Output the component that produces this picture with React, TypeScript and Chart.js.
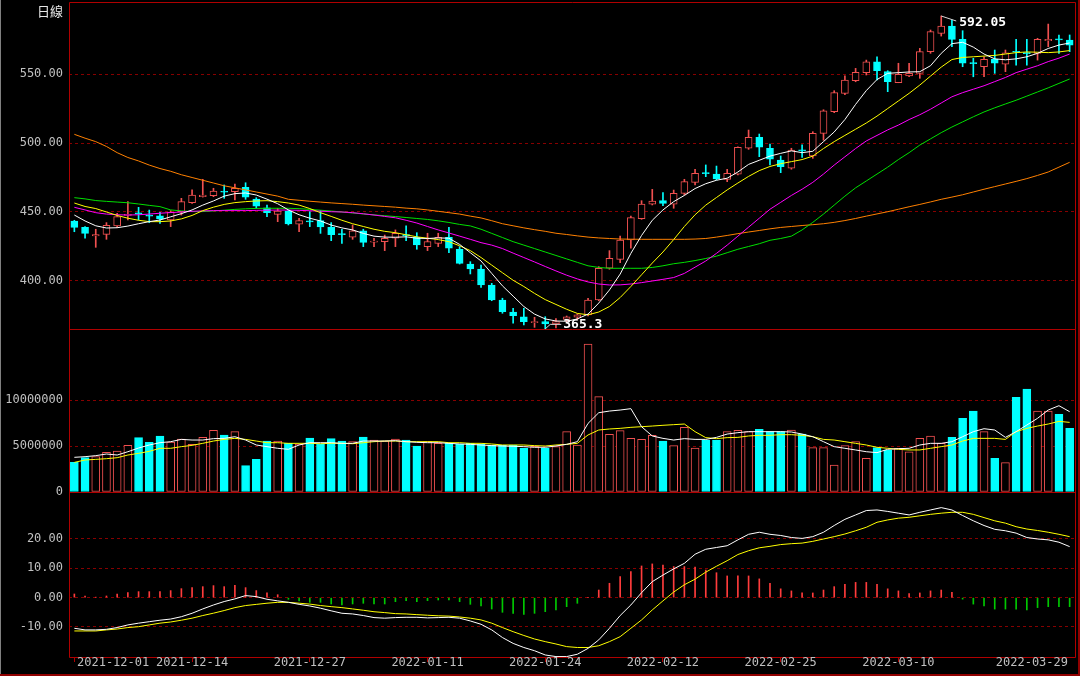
import React, { useEffect, useRef } from "react";
import { Chart, registerables } from "chart.js";

Chart.register(...registerables);

const UP = "#f05050";
const DOWN = "#00ffff";
const GRID = "rgb(135,0,0)";
const FRAME = "#b00000";
const LABEL = "#c0c0c0";
const MONO = "'DejaVu Sans Mono', monospace";

const periodLabel = "日線";

// ---- daily candles ----
const openP = [
  443.5, 438.9, 432.6, 433.8, 439.9, 447.6, 449.2, 447.5, 447.3, 444.2,
  450.2, 456.7, 461.1, 461.8, 465.0, 464.7, 467.9, 459.4, 453.1, 448.3,
  450.7, 441.1, 443.3, 443.7, 438.9, 434.0, 431.7, 436.4, 428.2, 428.5,
  431.0, 433.4, 431.7, 424.9, 427.3, 431.7, 423.0, 412.3, 408.7, 397.1,
  386.2, 377.5, 374.1, 369.8, 370.5, 368.8, 372.2, 373.7, 375.4, 386.2,
  409.2, 415.7, 429.7, 445.1, 455.6, 458.2, 455.6, 463.5, 471.5, 478.3,
  477.5, 473.7, 477.5, 496.2, 504.1, 496.2, 487.7, 481.7, 494.8, 490.6,
  507.0, 522.7, 536.0, 545.1, 551.0, 558.9, 551.7, 543.7, 548.6, 550.5,
  566.2, 579.5, 584.8, 575.1, 558.0, 555.3, 560.7, 557.2, 566.3, 565.3,
  565.0, 574.1, 575.3, 574.6,
];
const closeP = [
  438.9, 434.5, 433.7, 440.4, 446.6, 448.3, 448.6, 447.0, 444.9, 449.8,
  457.5, 462.3, 462.3, 465.2, 464.3, 467.2, 460.7, 454.3, 449.5, 450.7,
  441.3, 443.7, 442.8, 439.2, 433.6, 433.6, 436.4, 428.0, 428.7, 431.0,
  434.6, 432.9, 426.1, 428.5, 431.7, 423.7, 412.8, 408.7, 397.1, 386.2,
  377.8, 374.9, 370.5, 370.3, 368.8, 370.5, 374.1, 375.4, 386.2, 409.2,
  416.4, 429.7, 445.9, 455.8, 458.0, 456.3, 463.5, 472.0, 478.0, 477.8,
  473.9, 478.0, 496.9, 504.1, 496.9, 488.2, 482.8, 494.9, 494.3, 507.0,
  523.4, 536.5, 545.7, 551.2, 558.9, 552.4, 544.4, 549.8, 550.5, 566.2,
  580.7, 584.8, 575.1, 557.8, 557.5, 560.7, 557.8, 565.4, 565.8, 564.8,
  575.1, 575.1, 574.8, 571.0,
];
const highP = [
  444.0, 439.4, 437.5, 442.3, 449.1, 457.5, 453.4, 451.4, 449.8, 451.0,
  459.9, 466.0, 473.7, 467.2, 469.6, 470.3, 471.2, 460.4, 455.1, 452.7,
  451.4, 445.4, 450.2, 451.0, 442.3, 437.5, 440.6, 437.5, 431.0, 433.3,
  437.0, 439.9, 435.0, 434.6, 434.6, 438.9, 424.9, 414.0, 411.6, 398.3,
  387.5, 380.2, 380.2, 373.7, 374.1, 372.8, 374.6, 376.1, 387.5, 410.4,
  422.0, 432.6, 447.1, 458.2, 466.4, 464.0, 465.9, 473.7, 480.9, 484.1,
  483.3, 480.9, 497.3, 509.4, 506.5, 499.3, 490.6, 496.2, 498.6, 508.2,
  524.1, 537.9, 548.6, 554.1, 560.1, 562.5, 552.4, 557.8, 557.8, 568.6,
  581.9, 592.05, 589.1, 581.4, 561.4, 562.5, 567.4, 567.4, 575.1, 575.1,
  575.9, 586.2, 578.3, 578.3,
];
const lowP = [
  435.7, 431.0, 424.4, 430.2, 438.9, 444.2, 444.2, 442.3, 441.8, 439.4,
  447.8, 456.3, 460.8, 461.1, 459.9, 458.7, 459.2, 452.7, 446.6, 443.0,
  440.6, 435.7, 439.4, 434.5, 429.2, 427.3, 430.2, 424.9, 424.9, 422.0,
  424.9, 429.2, 423.0, 422.0, 424.9, 420.5, 412.3, 405.1, 395.4, 385.7,
  376.6, 369.4, 368.1, 366.4, 365.3, 366.0, 370.5, 372.0, 374.6, 385.7,
  408.5, 413.3, 423.7, 444.7, 455.1, 454.6, 452.7, 462.3, 469.6, 475.6,
  473.2, 472.0, 476.8, 495.4, 490.1, 484.1, 478.5, 481.0, 489.6, 488.9,
  502.0, 522.0, 535.0, 544.4, 549.3, 545.7, 537.2, 543.7, 548.0, 546.9,
  565.0, 577.5, 569.8, 555.3, 548.0, 548.0, 550.5, 551.7, 556.5, 556.5,
  560.1, 569.8, 565.0, 566.2,
];

// ---- moving averages ----
const ma5 = [
  447.8, 443.5, 440.0, 438.4, 438.6, 439.8, 441.5, 443.0, 444.2, 446.5,
  448.8, 451.5, 455.0, 458.0, 461.5, 463.3, 463.8, 462.3, 459.3, 456.0,
  451.5, 448.0, 445.5, 443.5, 440.5, 438.5, 437.0, 434.5, 432.5, 431.8,
  431.7, 432.0, 431.0, 430.8, 431.2, 431.0, 426.5, 420.5, 414.5, 405.5,
  396.5, 389.0, 381.5, 376.0, 372.5, 371.0, 370.8, 372.5, 376.0, 384.0,
  393.5, 405.0, 420.0, 433.0, 444.0, 451.5, 457.5, 462.0, 467.0, 470.5,
  473.0, 474.5, 479.0, 484.5, 487.5, 490.5, 492.5, 494.3, 493.0, 494.0,
  501.0, 508.0, 517.0, 528.0, 538.0, 546.0, 550.5, 551.0, 551.5, 551.7,
  556.0, 565.0, 572.0, 573.0, 569.5, 564.5, 561.0, 560.3, 561.0, 562.5,
  565.0, 568.5, 571.0, 572.5,
];
const ma10 = [
  456.5, 454.0, 452.5, 450.0, 447.5, 445.5, 444.0, 443.0, 443.0, 443.5,
  445.0, 447.5, 451.0, 453.5, 455.5, 456.8, 457.5, 458.0, 458.2, 457.5,
  456.5, 455.0, 452.5, 449.5, 446.8, 444.0, 441.5, 439.5, 437.5, 436.0,
  435.0, 433.5, 432.0, 431.0, 430.0, 428.5, 425.5, 422.0, 417.0, 411.5,
  406.0, 400.5, 396.0, 391.0, 386.5, 383.0, 379.5, 376.5, 375.5, 377.5,
  381.5, 388.0, 396.0, 404.5, 413.0, 421.0, 430.0, 439.5, 448.0, 455.0,
  460.5, 466.0, 471.0, 475.8, 480.0, 483.0, 485.0, 486.5, 488.0, 490.5,
  496.0, 501.0, 505.5, 510.0, 514.5, 519.5, 525.0, 530.5, 536.0, 542.0,
  548.5, 555.0, 560.5, 562.0, 562.5, 563.0, 563.5, 564.5, 565.5, 566.0,
  565.8, 565.5, 566.0, 567.0,
];
const ma20 = [
  453.4, 451.5, 449.5, 448.5, 448.0, 447.8, 448.0, 448.5, 449.1, 449.6,
  450.0, 450.5, 450.8, 451.0, 451.0, 451.0, 451.0, 451.2, 451.3, 451.4,
  451.4, 451.2, 450.9, 450.6, 450.2, 450.0, 449.5, 448.7, 447.8, 446.8,
  445.8, 444.0, 442.0, 439.5, 437.0, 434.8, 432.5, 430.2, 427.8, 426.0,
  423.5, 420.2, 417.0, 413.8, 410.5, 407.3, 404.2, 401.5, 399.3, 397.8,
  397.1, 397.2, 397.8, 398.8, 400.0, 401.2, 402.5, 405.5, 410.0, 414.5,
  420.0, 426.0, 432.5, 439.0, 445.5, 452.0, 457.0, 462.0, 466.5, 471.5,
  477.5, 484.0, 490.0, 496.0, 501.5, 505.5, 509.5, 513.0, 517.0, 520.5,
  524.5, 529.0, 533.5, 536.5, 539.0, 541.5, 544.5, 547.5, 551.0, 553.5,
  556.0, 559.0, 561.5, 564.5,
];
const ma30 = [
  460.4, 459.5, 458.3, 457.7, 457.2, 456.7, 455.8, 454.8, 453.9, 451.5,
  450.8, 450.3, 450.3, 450.8, 451.3, 451.9, 452.3, 452.6, 452.7, 452.7,
  452.7, 452.4, 451.9, 451.3, 450.7, 450.0, 449.3, 448.6, 447.9, 447.3,
  446.7, 446.0, 445.3, 444.6, 443.6, 442.4, 441.0, 439.9, 437.5, 434.5,
  431.5, 428.5, 426.0, 423.5, 421.0, 418.5, 416.0, 413.5, 411.0, 409.8,
  409.2, 409.2, 409.2, 409.2, 409.8, 411.0, 412.5, 413.5, 414.8, 416.3,
  418.0, 420.5, 423.0, 425.0, 427.0, 429.5, 430.8, 432.5, 437.0, 442.5,
  448.5, 455.0, 461.5, 467.5, 472.5, 477.5, 482.5, 488.0, 493.0, 498.5,
  503.0, 507.5, 511.6, 515.3, 519.0, 522.5, 525.5, 528.3, 531.0, 534.0,
  537.0, 540.0, 543.2, 546.4,
];
const ma60 = [
  506.3, 503.5, 501.0, 497.5, 493.0, 489.5, 487.0, 484.0, 481.5, 479.5,
  477.0, 475.0, 473.0, 471.0, 469.0, 467.5, 466.0, 464.5, 463.0, 461.5,
  459.2, 458.5, 457.8, 457.2, 456.6, 456.1, 455.6, 455.0, 454.5, 454.0,
  453.5, 452.8, 452.3, 451.5, 450.5, 449.5, 448.5, 447.0, 445.7, 443.7,
  441.5, 440.0, 438.5, 437.2, 436.0, 434.6, 433.7, 432.7, 431.8, 431.2,
  430.8, 430.4, 430.3, 430.2, 430.2, 430.2, 430.2, 430.2, 430.4, 430.8,
  431.8, 433.0, 434.3, 435.5, 436.6, 437.8, 438.8, 439.5, 440.2, 440.8,
  441.5, 442.5, 443.8, 445.3, 447.0, 448.6, 450.2, 452.0, 453.8, 455.5,
  457.3, 459.2, 460.8, 462.5, 464.5, 466.5, 468.4, 470.3, 472.2, 474.2,
  476.5, 479.0, 482.5, 486.0,
];

// ---- volume ----
const volume = [
  3.23e6, 3.73e6, 3.84e6, 4.31e6, 4.46e6, 5.07e6, 5.91e6, 5.40e6, 6.09e6, 5.43e6,
  5.76e6, 5.18e6, 5.94e6, 6.70e6, 6.20e6, 6.56e6, 2.86e6, 3.55e6, 5.54e6, 5.54e6,
  5.29e6, 5.22e6, 5.87e6, 5.18e6, 5.80e6, 5.54e6, 5.47e6, 5.98e6, 5.65e6, 5.54e6,
  5.76e6, 5.65e6, 5.00e6, 5.47e6, 5.29e6, 5.29e6, 5.18e6, 5.29e6, 5.18e6, 5.11e6,
  5.07e6, 5.11e6, 4.75e6, 4.96e6, 4.75e6, 4.93e6, 6.56e6, 5.11e6, 16.09e6, 10.36e6,
  6.27e6, 6.67e6, 5.83e6, 5.72e6, 6.16e6, 5.54e6, 5.04e6, 7.03e6, 4.78e6, 5.65e6,
  5.65e6, 6.56e6, 6.70e6, 6.56e6, 6.81e6, 6.56e6, 6.56e6, 6.74e6, 6.30e6, 4.82e6,
  4.82e6, 2.93e6, 5.04e6, 5.47e6, 3.66e6, 4.82e6, 4.57e6, 4.75e6, 4.38e6, 5.83e6,
  6.09e6, 5.29e6, 5.94e6, 8.01e6, 8.80e6, 6.56e6, 3.66e6, 3.19e6, 10.29e6, 11.20e6,
  8.80e6, 8.80e6, 8.45e6, 6.92e6,
];
const volMa5 = [
  3.77e6, 3.84e6, 3.95e6, 4.13e6, 4.02e6, 4.38e6, 4.78e6, 5.11e6, 5.36e6, 5.47e6,
  5.72e6, 5.65e6, 5.65e6, 5.80e6, 5.83e6, 6.01e6, 5.65e6, 5.11e6, 4.93e6, 4.75e6,
  4.64e6, 5.11e6, 5.36e6, 5.36e6, 5.36e6, 5.29e6, 5.29e6, 5.54e6, 5.54e6, 5.54e6,
  5.58e6, 5.47e6, 5.40e6, 5.36e6, 5.36e6, 5.29e6, 5.22e6, 5.18e6, 5.11e6, 5.04e6,
  5.00e6, 4.97e6, 4.93e6, 4.86e6, 4.86e6, 5.00e6, 5.18e6, 5.47e6, 7.46e6, 8.62e6,
  8.80e6, 8.91e6, 9.06e6, 7.10e6, 6.09e6, 5.83e6, 5.65e6, 5.80e6, 5.72e6, 5.72e6,
  5.94e6, 6.30e6, 6.45e6, 6.56e6, 6.56e6, 6.56e6, 6.56e6, 6.52e6, 6.30e6, 6.01e6,
  5.47e6, 4.93e6, 4.75e6, 4.57e6, 4.38e6, 4.28e6, 4.64e6, 4.71e6, 4.75e6, 5.11e6,
  5.29e6, 5.29e6, 5.47e6, 6.01e6, 6.56e6, 6.88e6, 6.74e6, 5.94e6, 6.56e6, 7.28e6,
  8.01e6, 8.91e6, 9.38e6, 8.73e6,
];
const volMa10 = [
  3.22e6, 3.48e6, 3.55e6, 3.62e6, 3.73e6, 4.02e6, 4.20e6, 4.42e6, 4.75e6, 4.75e6,
  4.93e6, 5.07e6, 5.29e6, 5.54e6, 5.72e6, 5.83e6, 5.72e6, 5.54e6, 5.36e6, 5.36e6,
  5.29e6, 5.29e6, 5.29e6, 5.25e6, 5.29e6, 5.29e6, 5.25e6, 5.36e6, 5.47e6, 5.54e6,
  5.54e6, 5.47e6, 5.47e6, 5.47e6, 5.47e6, 5.36e6, 5.36e6, 5.29e6, 5.29e6, 5.22e6,
  5.11e6, 5.11e6, 5.11e6, 5.04e6, 5.00e6, 5.11e6, 5.18e6, 5.29e6, 6.20e6, 6.74e6,
  6.85e6, 6.92e6, 7.03e6, 7.10e6, 7.17e6, 7.25e6, 7.32e6, 7.39e6, 6.56e6, 5.91e6,
  5.80e6, 5.91e6, 5.94e6, 6.09e6, 6.16e6, 6.16e6, 6.23e6, 6.23e6, 6.16e6, 6.01e6,
  5.72e6, 5.65e6, 5.47e6, 5.29e6, 5.11e6, 4.86e6, 4.75e6, 4.64e6, 4.57e6, 4.57e6,
  4.75e6, 4.93e6, 5.11e6, 5.54e6, 5.83e6, 5.83e6, 5.83e6, 5.72e6, 6.56e6, 6.92e6,
  7.17e6, 7.39e6, 7.68e6, 7.57e6,
];

// ---- MACD ----
const dif = [
  -10.45, -11.0, -11.0, -10.8, -10.2, -9.3, -8.7, -8.2, -7.7, -7.3,
  -6.5, -5.33, -3.85, -2.5, -1.33, -0.43, 0.7, 0.35, -0.55, -1.1,
  -1.6, -2.28, -2.84, -3.6, -4.5, -5.33, -5.56, -6.1, -6.8, -7.0,
  -6.8, -6.7, -6.7, -6.9, -6.8, -6.7, -7.0, -7.95, -9.08, -11.0,
  -13.6, -15.6, -17.0, -18.1, -19.55, -20.1, -20.1, -19.3, -17.3, -14.4,
  -10.45, -6.1, -2.5, 1.7, 5.45, 7.7, 9.8, 11.7, 14.8, 16.5,
  17.1, 17.7, 19.7, 21.6, 22.3, 21.6, 21.2, 20.5, 20.2, 20.8,
  22.3, 24.6, 26.7, 28.2, 29.7, 29.9, 29.4, 28.8, 28.2, 29.1,
  29.9, 30.7, 29.9, 28.0, 26.2, 24.6, 23.3, 22.8, 22.0, 20.5,
  20.0, 19.7, 18.9, 17.4,
];
const dea = [
  -11.36, -11.36, -11.36, -11.0, -10.7, -10.2, -9.9, -9.3, -8.7, -8.3,
  -7.7, -7.0, -6.1, -5.3, -4.4, -3.4, -2.7, -2.3, -1.9, -1.6,
  -1.6, -1.9, -2.2, -2.7, -3.07, -3.4, -3.85, -4.3, -4.8, -5.1,
  -5.45, -5.56, -5.8, -6.0, -6.2, -6.3, -6.6, -7.0, -7.6, -8.7,
  -10.2, -11.6, -12.9, -14.1, -15.0, -15.8, -16.7, -17.0, -17.0, -16.4,
  -15.0, -13.3, -10.45, -7.6, -4.2, -1.1, 1.9, 4.4, 6.3, 8.7,
  10.7, 12.6, 14.7, 16.0, 17.0, 17.5, 18.1, 18.4, 18.6, 19.2,
  20.0, 20.8, 21.7, 22.8, 24.0, 25.7, 26.5, 27.1, 27.4, 27.9,
  28.4, 28.8, 29.1, 29.1, 28.4, 27.3, 26.2, 25.4, 24.2, 23.4,
  22.9, 22.3, 21.6, 20.8,
];
const macdHist = [
  1.25, 0.57, 0.1, 0.57, 1.25, 1.7, 2.05, 2.05, 2.05, 2.4,
  3.07, 3.41, 3.75, 4.1, 3.75, 4.2, 3.41, 2.4, 1.6, 1.0,
  -0.57, -1.14, -1.6, -1.6, -2.16, -2.5, -2.16, -1.93, -2.16, -2.16,
  -1.37, -1.02, -1.37, -1.02, -0.8, -0.8, -1.37, -2.28, -2.84, -3.87,
  -5.0, -5.35, -5.69, -5.35, -4.78, -4.2, -3.07, -1.93, 0, 2.6,
  4.9, 7.2, 8.9, 10.8, 11.5, 11.1, 10.6, 10.6, 10.4, 9.4,
  8.5, 7.4, 7.4, 7.4, 6.4, 4.9, 3.0, 2.3, 1.6, 1.6,
  2.6, 3.75, 4.55, 5.2, 5.2, 4.55, 3.0, 2.3, 1.4, 1.6,
  2.3, 2.6, 1.8, -0.5, -2.2, -2.8, -3.9, -3.9, -3.9, -4.2,
  -3.4, -3.07, -3.07, -3.07,
];

// ---- axis ticks / labels ----
const priceTicks = [400, 450, 500, 550];
const volTicks = [0, 5000000, 10000000];
const macdTicks = [-10, 0, 10, 20];
const xLabelIdx = [0, 11, 22, 33, 44, 55, 66, 77, 93];
const xLabels = [
  "2021-12-01", "2021-12-14", "2021-12-27", "2022-01-11", "2022-01-24",
  "2022-02-12", "2022-02-25", "2022-03-10", "2022-03-29",
];

const categories = openP.map((_, i) => String(i));

function yAxis(min: number, max: number, ticks: number[], fmt: (v: number) => string) {
  return {
    position: "left",
    min,
    max,
    afterFit: (s: any) => {
      s.width = 69;
      s.paddingTop = 0;
      s.paddingBottom = 0;
    },
    afterBuildTicks: (s: any) => {
      s.ticks = ticks.map((v) => ({ value: v }));
    },
    grid: { color: GRID, lineWidth: 1, drawTicks: false },
    border: { display: false, dash: [3, 3] },
    ticks: {
      color: LABEL,
      font: { family: MONO, size: 12 },
      padding: 6,
      autoSkip: false,
      callback: (v: any) => fmt(Number(v)),
    },
  };
}

function framePlugin(id: string, top: boolean, bottom: boolean, vFromZero: boolean, vToCanvas: boolean) {
  return {
    id,
    afterDraw(chart: any) {
      const { ctx, chartArea: a } = chart;
      ctx.save();
      ctx.strokeStyle = FRAME;
      ctx.lineWidth = 1;
      const L = Math.floor(a.left) + 0.5;
      const R = Math.floor(a.right) + 0.5;
      const T = Math.floor(a.top) + 0.5;
      const B = Math.floor(a.bottom) + 0.5;
      const v0 = vFromZero ? 0 : T;
      const v1 = vToCanvas ? chart.height : B;
      ctx.beginPath();
      ctx.moveTo(L, v0);
      ctx.lineTo(L, v1);
      ctx.moveTo(R, v0);
      ctx.lineTo(R, v1);
      if (top) {
        ctx.moveTo(L, T);
        ctx.lineTo(R, T);
      }
      if (bottom) {
        ctx.moveTo(L, B);
        ctx.lineTo(R, B);
      }
      ctx.stroke();
      ctx.restore();
    },
  };
}

const mainDeco = {
  id: "mainDeco",
  afterDraw(chart: any) {
    const { ctx } = chart;
    const xs = chart.scales.x;
    const ys = chart.scales.y;
    ctx.save();
    ctx.font = "13px 'Noto Sans CJK TC', sans-serif";
    ctx.fillStyle = "#e6e6e6";
    ctx.textAlign = "right";
    ctx.textBaseline = "middle";
    ctx.fillText(periodLabel, 63, 11);

    ctx.strokeStyle = "#d8d8d8";
    ctx.lineWidth = 1;
    ctx.font = `bold 13px ${MONO}`;
    ctx.fillStyle = "#ffffff";
    ctx.textAlign = "left";

    const hi = Math.max(...highP);
    const hiIdx = highP.indexOf(hi);
    const hx = xs.getPixelForValue(hiIdx);
    const hy = ys.getPixelForValue(hi);
    ctx.beginPath();
    ctx.moveTo(hx, hy);
    ctx.lineTo(hx + 15, hy + 5);
    ctx.stroke();
    ctx.fillText(String(hi), hx + 18, hy + 7);

    const lo = Math.min(...lowP);
    const loIdx = lowP.indexOf(lo);
    const lx = xs.getPixelForValue(loIdx);
    const ly = ys.getPixelForValue(lo);
    ctx.beginPath();
    ctx.moveTo(lx, ly);
    ctx.lineTo(lx + 5, ly - 4.5);
    ctx.lineTo(lx + 16, ly - 4.5);
    ctx.stroke();
    ctx.fillText(String(lo), lx + 18, ly - 4.5);
    ctx.restore();
  },
};

const macdDeco = {
  id: "macdDeco",
  afterDraw(chart: any) {
    const { ctx, chartArea: a } = chart;
    const xs = chart.scales.x;
    ctx.save();
    ctx.font = `12px ${MONO}`;
    ctx.fillStyle = LABEL;
    ctx.textAlign = "left";
    ctx.textBaseline = "middle";
    ctx.strokeStyle = FRAME;
    ctx.lineWidth = 1;
    xLabelIdx.forEach((idx, k) => {
      const cx = xs.getPixelForValue(idx);
      const t = xLabels[k];
      const w = ctx.measureText(t).width;
      let left = cx - w / 2;
      left = Math.max(left, a.left + 8);
      left = Math.min(left, a.right - 7 - w);
      ctx.fillText(t, left, a.bottom + 6);
      if (k < xLabelIdx.length - 1) {
        const tx = Math.floor(cx) + 0.5;
        ctx.beginPath();
        ctx.moveTo(tx, a.bottom);
        ctx.lineTo(tx, a.bottom + 5);
        ctx.stroke();
      }
    });
    ctx.restore();
  },
};

function line(data: number[], color: string, order: number) {
  return {
    type: "line",
    data,
    borderColor: color,
    borderWidth: 1,
    pointRadius: 0,
    pointHoverRadius: 0,
    tension: 0,
    fill: false,
    order,
  };
}

function baseOptions(yCfg: any, padding: any) {
  return {
    responsive: false,
    maintainAspectRatio: false,
    animation: false,
    events: [],
    layout: { padding },
    plugins: { legend: { display: false }, tooltip: { enabled: false } },
    scales: {
      x: { type: "category", offset: true, display: false, grid: { display: false } },
      y: yCfg,
    },
  };
}

export default function App() {
  const mainRef = useRef<HTMLCanvasElement>(null);
  const volRef = useRef<HTMLCanvasElement>(null);
  const macdRef = useRef<HTMLCanvasElement>(null);

  useEffect(() => {
    document.body.style.margin = "0";
    document.body.style.background = "#000";
    const isUp = closeP.map((c, i) => c >= openP[i]);
    const upColor = isUp.map((u) => (u ? UP : DOWN));
    const fillColor = isUp.map((u) => (u ? "#000000" : DOWN));

    const charts: Chart[] = [];

    charts.push(
      new Chart(mainRef.current as HTMLCanvasElement, {
        type: "bar",
        data: {
          labels: categories,
          datasets: [
            line(ma60, "#ff8000", 5),
            line(ma30, "#00e000", 4),
            line(ma20, "#ff00ff", 3),
            line(ma10, "#ffff00", 2),
            line(ma5, "#ffffff", 1),
            {
              type: "bar",
              data: lowP.map((l, i) => [l, highP[i]]),
              backgroundColor: upColor,
              borderWidth: 0,
              barThickness: 1,
              grouped: false,
              order: 20,
            },
            {
              type: "bar",
              data: openP.map((o, i) => [o, closeP[i]]),
              backgroundColor: fillColor,
              borderColor: upColor,
              borderWidth: 1,
              borderSkipped: false,
              barThickness: 7,
              minBarLength: 1,
              grouped: false,
              order: 10,
            },
          ],
        } as any,
        options: baseOptions(
          yAxis(365.2, 602.2, priceTicks, (v) => v.toFixed(2)),
          { top: 2, right: 5, bottom: 1, left: 0 }
        ) as any,
        plugins: [framePlugin("frameMain", true, true, false, false), mainDeco],
      })
    );

    charts.push(
      new Chart(volRef.current as HTMLCanvasElement, {
        type: "bar",
        data: {
          labels: categories,
          datasets: [
            line(volMa10, "#ffff00", 2),
            line(volMa5, "#ffffff", 1),
            {
              type: "bar",
              data: volume,
              backgroundColor: fillColor,
              borderColor: upColor,
              borderWidth: 1,
              borderSkipped: false,
              barThickness: 8,
              grouped: false,
              order: 10,
            },
          ],
        } as any,
        options: baseOptions(
          yAxis(0, 17720000, volTicks, (v) => String(Math.round(v))),
          { top: 0, right: 5, bottom: 4, left: 0 }
        ) as any,
        plugins: [framePlugin("frameVol", false, true, true, true)],
      })
    );

    charts.push(
      new Chart(macdRef.current as HTMLCanvasElement, {
        type: "bar",
        data: {
          labels: categories,
          datasets: [
            line(dea, "#ffff00", 2),
            line(dif, "#ffffff", 1),
            {
              type: "bar",
              data: macdHist,
              backgroundColor: macdHist.map((v) => (v >= 0 ? "#ff3c3c" : "#00c800")),
              borderWidth: 0,
              barThickness: 1,
              grouped: false,
              order: 10,
            },
          ],
        } as any,
        options: baseOptions(
          yAxis(-20.24, 34.66, macdTicks, (v) => v.toFixed(2)),
          { top: 2, right: 5, bottom: 19, left: 0 }
        ) as any,
        plugins: [framePlugin("frameMacd", false, true, true, false), macdDeco],
      })
    );

    return () => charts.forEach((c) => c.destroy());
  }, []);

  return (
    <div
      style={{
        position: "fixed",
        left: 0,
        top: 0,
        width: 1080,
        height: 676,
        background: "#000",
        overflow: "hidden",
      }}
    >
      <canvas
        ref={mainRef}
        width={1080}
        height={330}
        style={{ position: "absolute", left: 0, top: 0, width: 1080, height: 330 }}
      />
      <canvas
        ref={volRef}
        width={1080}
        height={167}
        style={{ position: "absolute", left: 0, top: 329, width: 1080, height: 167 }}
      />
      <canvas
        ref={macdRef}
        width={1080}
        height={182}
        style={{ position: "absolute", left: 0, top: 494, width: 1080, height: 182 }}
      />
      <div style={{ position: "absolute", left: 0, top: 0, width: 1, height: 676, background: "#808080" }} />
      <div style={{ position: "absolute", left: 0, top: 674, width: 1080, height: 2, background: "#900000" }} />
      <div style={{ position: "absolute", left: 1078, top: 0, width: 2, height: 676, background: "#900000" }} />
    </div>
  );
}
